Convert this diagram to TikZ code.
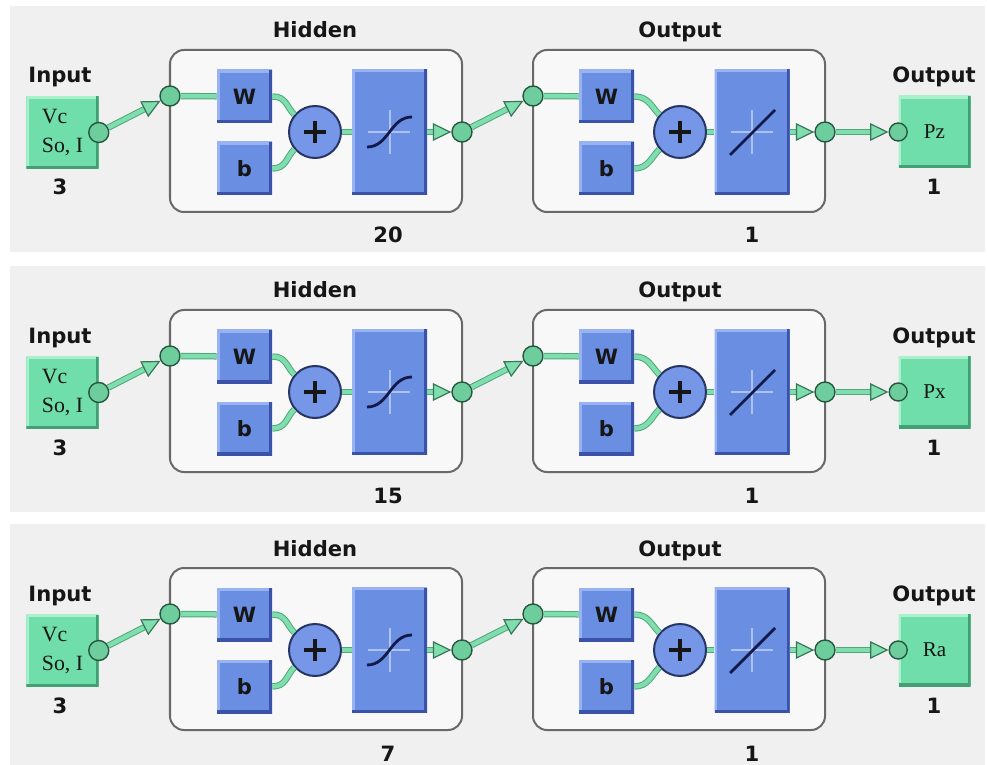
\documentclass[tikz,border=0pt]{standalone}
\usepackage{fontspec}
\setmainfont{Liberation Serif}
\setsansfont{DejaVu Sans}
\usetikzlibrary{arrows.meta,positioning}
\definecolor{nnpanel}{RGB}{240,240,240}
\definecolor{nnlayer}{RGB}{248,248,248}
\definecolor{nnframe}{RGB}{105,105,105}
\definecolor{nnmint}{RGB}{112,222,170}
\definecolor{nnmintlt}{RGB}{170,240,205}
\definecolor{nnmintdk}{RGB}{66,160,116}
\definecolor{nnline}{RGB}{128,222,174}
\definecolor{nnlinedk}{RGB}{78,168,124}
\definecolor{nnport}{RGB}{110,205,156}
\definecolor{nnedge}{RGB}{38,88,62}
\definecolor{nnblue}{RGB}{106,142,226}
\definecolor{nnbluelt}{RGB}{152,178,242}
\definecolor{nnbluedk}{RGB}{58,82,168}
\definecolor{nnsum}{RGB}{118,150,232}
\definecolor{nnsumdk}{RGB}{40,52,100}
\definecolor{nncross}{RGB}{172,194,244}
\definecolor{nncurve}{RGB}{18,26,74}
\definecolor{nntext}{RGB}{22,22,22}

\begin{document}
\begin{tikzpicture}[x=0.25mm,y=-0.25mm,
  lbl/.style={font=\sffamily\bfseries\fontsize{15}{18}\selectfont,text=nntext,anchor=base,inner sep=0pt},
  bevel/.style 2 args={path picture={
      \draw[#1,line width=1.4mm] (path picture bounding box.south west) |- (path picture bounding box.north east);
      \draw[#2,line width=1.4mm] (path picture bounding box.south west) -| (path picture bounding box.north east);}},
  wbox/.style={fill=nnblue,bevel={nnbluelt}{nnbluedk},minimum width=13.75mm,minimum height=13.25mm,inner sep=0pt,
    font=\sffamily\bfseries\fontsize{15}{18}\selectfont,text=nntext},
  tfbox/.style={fill=nnblue,bevel={nnbluelt}{nnbluedk},minimum width=18.75mm,minimum height=31.25mm,inner sep=0pt},
  iobox/.style={fill=nnmint,bevel={nnmintlt}{nnmintdk},minimum width=18mm,minimum height=18mm,inner sep=0pt,
    align=left,font=\fontsize{15.5}{20}\selectfont,text=nntext},
  layer/.style={draw=nnframe,line width=0.5mm,fill=nnlayer,rounded corners=3.5mm,minimum width=73mm,minimum height=40.5mm},
  port/.style={circle,fill=nnport,draw=nnedge,line width=0.35mm,minimum size=5mm,inner sep=0pt},
  sumnode/.style={circle,fill=nnsum,draw=nnsumdk,line width=0.5mm,minimum size=13mm,inner sep=0pt},
  wire/.style={nnline,line width=1.1mm,preaction={draw=nnlinedk,line width=1.6mm}},
  flow/.style={nnline,line width=1.1mm,preaction={draw=nnlinedk,line width=1.6mm,-,shorten >=4.6mm},
    -{Triangle[length=4.6mm,width=4.4mm,line width=0.3mm,color=nnlinedk!70!black,fill=nnline]}}]
  \useasboundingbox (0,0) rectangle (987,765);
  \foreach \p/\yy/\n/\o in {1/0/20/Pz,2/260/15/Px,3/518/7/Ra}{
    \begin{scope}[shift={(0,\yy)}]
      % Panel
      \fill[nnpanel] (10,6) rectangle (985,252);
      % Input
      \node[lbl] (lin\p) at (60,83) {Input};
      \node[iobox] (inp\p) at (62.5,132.5) {Vc\\So, I};
      \node[lbl] (nin\p) at (60,195) {3};
      \node[port] (inport\p) at (inp\p.east) {};
      % Hidden layer
      \node[lbl] (lhid\p) at (315,38) {Hidden};
      \node[layer] (hid\p) at (316,131) {};
      \node[lbl] (nhid\p) at (388,243) {\n};
      \node[port] (hidin\p) at (170,96) {};
      \node[wbox] (hidw\p) at (244.5,96.5) {W};
      \node[wbox] (hidb\p) at (244.5,168.5) {b};
      \node[sumnode] (hidsum\p) at (315,132) {};
      \draw[nntext,line width=0.8mm] (304,132) -- (326,132) (315,121) -- (315,143);
      \node[tfbox] (hidtf\p) at (389.5,132) {};
      \draw[nncross,line width=0.5mm] (368,132) -- (410,132) (389.5,110) -- (389.5,154);
      \draw[nncurve,line width=0.7mm] (367,147) .. controls (389,147) and (390,117) .. (412,117);
      \node[port] (hidout\p) at (462,132) {};
      % Output layer
      \node[lbl] (lout\p) at (680,38) {Output};
      \node[layer] (out\p) at (679,131) {};
      \node[lbl] (nout\p) at (752,243) {1};
      \node[port] (outin\p) at (533,96) {};
      \node[wbox] (outw\p) at (606.5,96.5) {W};
      \node[wbox] (outb\p) at (606.5,168.5) {b};
      \node[sumnode] (outsum\p) at (680,132) {};
      \draw[nntext,line width=0.8mm] (669,132) -- (691,132) (680,121) -- (680,143);
      \node[tfbox] (outtf\p) at (752,132) {};
      \draw[nncross,line width=0.5mm] (731,132) -- (773,132) (752,110) -- (752,154);
      \draw[nncurve,line width=0.7mm] (730,155) -- (775,110);
      \node[port] (outout\p) at (825,132) {};
      % Target
      \node[lbl] (ltgt\p) at (934,83) {Output};
      \node[iobox,font=\fontsize{15}{18}\selectfont] (tgt\p) at (934.5,132) {\o};
      \node[lbl] (ntgt\p) at (934,195) {1};
      \node[port,minimum size=4.5mm] (tgtin\p) at (tgt\p.west) {};
      % Connections
      \draw[flow] (inport\p) -- (hidin\p);
      \draw[wire] (hidin\p) -- (hidw\p);
      \draw[wire] (hidw\p.east) .. controls +(14,0) and +(-8,-8) .. (hidsum\p.140);
      \draw[wire] (hidb\p.east) .. controls +(14,0) and +(-8,8) .. (hidsum\p.-140);
      \draw[wire] (hidsum\p) -- (hidtf\p);
      \draw[flow] (hidtf\p) -- (hidout\p);
      \draw[flow] (hidout\p) -- (outin\p);
      \draw[wire] (outin\p) -- (outw\p);
      \draw[wire] (outw\p.east) .. controls +(14,0) and +(-8,-8) .. (outsum\p.140);
      \draw[wire] (outb\p.east) .. controls +(14,0) and +(-8,8) .. (outsum\p.-140);
      \draw[wire] (outsum\p) -- (outtf\p);
      \draw[flow] (outtf\p) -- (outout\p);
      \draw[flow] (outout\p) -- (tgtin\p);
    \end{scope}
  }
\end{tikzpicture}
\end{document}
